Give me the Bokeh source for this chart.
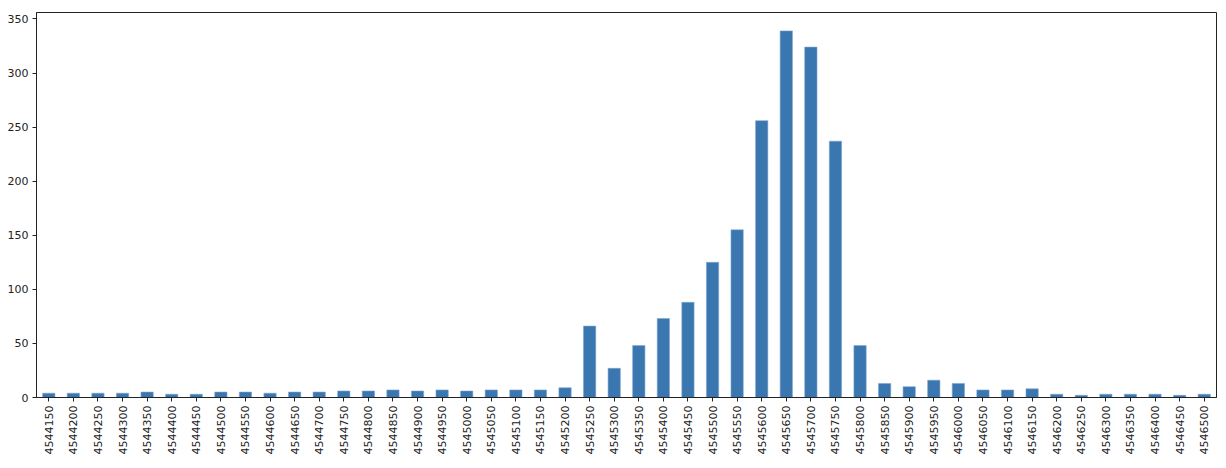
import math
from bokeh.plotting import figure
from bokeh.models import FactorRange, Range1d, FixedTicker, ColumnDataSource
from bokeh.embed import file_html
from bokeh.resources import INLINE

categories = [str(v) for v in [
    4544150, 4544200, 4544250, 4544300, 4544350, 4544400, 4544450, 4544500,
    4544550, 4544600, 4544650, 4544700, 4544750, 4544800, 4544850, 4544900,
    4544950, 4545000, 4545050, 4545100, 4545150, 4545200, 4545250, 4545300,
    4545350, 4545400, 4545450, 4545500, 4545550, 4545600, 4545650, 4545700,
    4545750, 4545800, 4545850, 4545900, 4545950, 4546000, 4546050, 4546100,
    4546150, 4546200, 4546250, 4546300, 4546350, 4546400, 4546450, 4546500]]
counts = [4, 4, 4, 4, 5, 3, 3, 5,
          5, 4, 5, 5, 6, 6, 7, 6,
          7, 6, 7, 7, 7, 9, 66, 27,
          48, 73, 88, 125, 155, 256, 339, 324,
          237, 48, 13, 10, 16, 13, 7, 7,
          8, 3, 2, 3, 3, 3, 2, 3]
y_ticks = [0, 50, 100, 150, 200, 250, 300, 350]

src = ColumnDataSource(dict(x=categories, y=counts))

p = figure(x_range=FactorRange(*categories), y_range=Range1d(0, 356),
           width=1219, height=466, output_backend="svg", toolbar_location=None,
           min_border_left=36, min_border_right=3, min_border_top=12, min_border_bottom=69)
p.vbar(x="x", top="y", width=0.5, source=src, fill_color="#3a76b0",
       line_color="#7fa6cc", line_width=0.6)

p.xgrid.visible = False
p.ygrid.visible = False
p.outline_line_color = "#222222"
p.outline_line_width = 1

for ax in (p.xaxis, p.yaxis):
    ax.axis_line_color = "#222222"
    ax.major_tick_line_color = "#222222"
    ax.major_tick_out = 4
    ax.major_tick_in = 0
    ax.minor_tick_line_color = None
    ax.major_label_text_font = "DejaVu Sans"
    ax.major_label_text_font_size = "11px"
    ax.major_label_text_color = "#222222"
    ax.major_label_standoff = 4

p.xaxis.major_label_orientation = math.pi / 2
p.yaxis.ticker = FixedTicker(ticks=y_ticks)
p.x_range.range_padding = 0
p.x_range.group_padding = 0

open("out.html", "w").write(file_html(p, INLINE))
